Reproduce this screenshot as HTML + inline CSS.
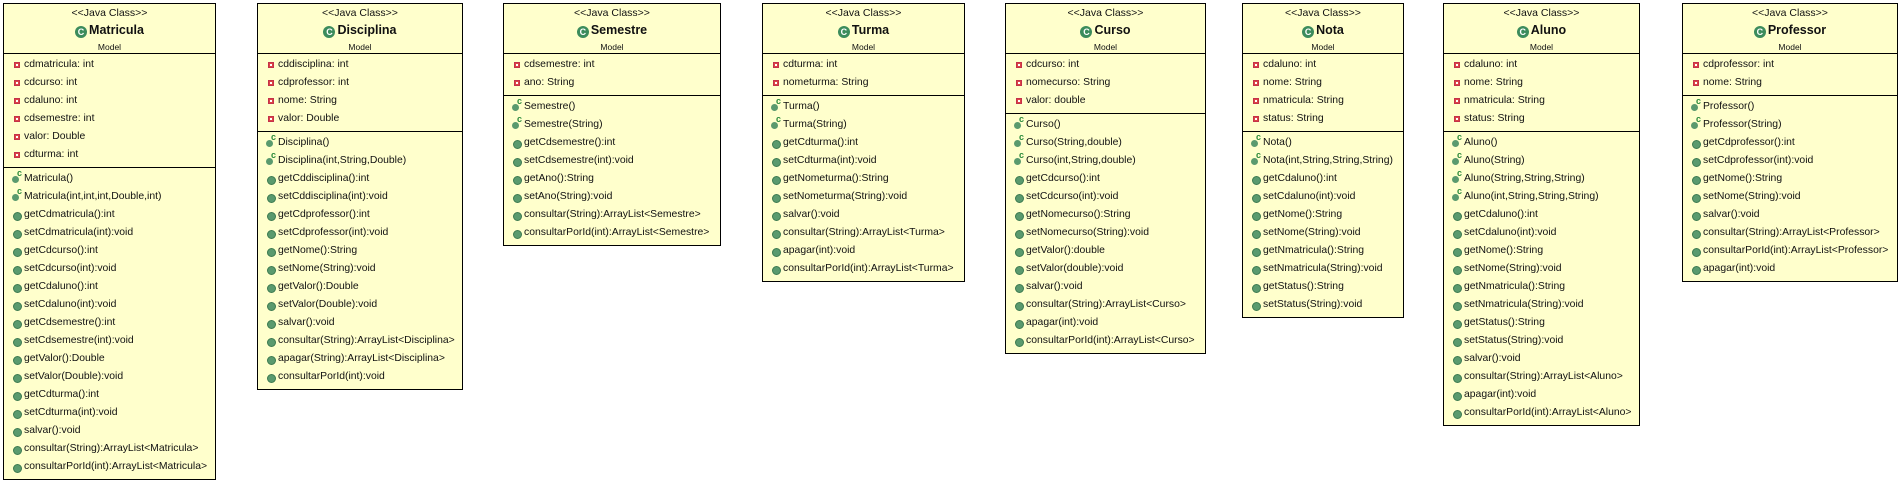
<!DOCTYPE html>
<html><head><meta charset="utf-8">
<style>
body{margin:0;width:1901px;height:481px;background:#fff;position:relative;overflow:hidden;font-family:"Liberation Sans",sans-serif;color:#111}
.box{position:absolute;top:3px;background:#ffffcc;border:1.5px solid #000;box-sizing:border-box}
.hd{height:50px;border-bottom:1.5px solid #000;text-align:center;position:relative;box-sizing:border-box}
.st{position:absolute;top:3px;left:0;right:0;font-size:10.5px}
.nm{position:absolute;top:19px;left:0;right:0;font-size:12.5px;font-weight:bold}
.nm i{display:inline-block;width:12px;height:12px;border-radius:50%;background:#3c8c5c;color:#fff;font-style:normal;font-size:9px;line-height:12px;vertical-align:-1px;margin-right:2px}
.pk{position:absolute;top:38px;left:0;right:0;font-size:8.5px}
.sec{border-bottom:1.5px solid #000;padding:2px 0 3px;box-sizing:border-box}
.sec:last-child{border-bottom:none}
.r{height:18px;line-height:18px;font-size:10.4px;padding-left:20px;position:relative;white-space:nowrap}
.a:before{content:"";position:absolute;left:10px;top:6px;width:4px;height:4px;background:#fff;border:1px solid #c4314b;box-shadow:inset 0 0 0 1px #d44}
.m:before{content:"";position:absolute;left:9px;top:6px;width:7px;height:7px;border-radius:50%;background:#5a9a6e;border:0.5px solid #3c7a50}
.c:before{content:"";position:absolute;left:8px;top:6px;width:7px;height:7px;border-radius:50%;background:#5a9a6e}
.c:after{content:"c";position:absolute;left:13px;top:-6px;font-size:9px;font-weight:bold;color:#2a8a3a}
</style></head><body>
<div id="root"></div>
<script>
var C=[
["Matricula",3,216,["cdmatricula: int","cdcurso: int","cdaluno: int","cdsemestre: int","valor: Double","cdturma: int"],["cMatricula()","cMatricula(int,int,int,Double,int)","getCdmatricula():int","setCdmatricula(int):void","getCdcurso():int","setCdcurso(int):void","getCdaluno():int","setCdaluno(int):void","getCdsemestre():int","setCdsemestre(int):void","getValor():Double","setValor(Double):void","getCdturma():int","setCdturma(int):void","salvar():void","consultar(String):ArrayList<Matricula>","consultarPorId(int):ArrayList<Matricula>"]],
["Disciplina",257,463,["cddisciplina: int","cdprofessor: int","nome: String","valor: Double"],["cDisciplina()","cDisciplina(int,String,Double)","getCddisciplina():int","setCddisciplina(int):void","getCdprofessor():int","setCdprofessor(int):void","getNome():String","setNome(String):void","getValor():Double","setValor(Double):void","salvar():void","consultar(String):ArrayList<Disciplina>","apagar(String):ArrayList<Disciplina>","consultarPorId(int):void"]],
["Semestre",503,721,["cdsemestre: int","ano: String"],["cSemestre()","cSemestre(String)","getCdsemestre():int","setCdsemestre(int):void","getAno():String","setAno(String):void","consultar(String):ArrayList<Semestre>","consultarPorId(int):ArrayList<Semestre>"]],
["Turma",762,965,["cdturma: int","nometurma: String"],["cTurma()","cTurma(String)","getCdturma():int","setCdturma(int):void","getNometurma():String","setNometurma(String):void","salvar():void","consultar(String):ArrayList<Turma>","apagar(int):void","consultarPorId(int):ArrayList<Turma>"]],
["Curso",1005,1206,["cdcurso: int","nomecurso: String","valor: double"],["cCurso()","cCurso(String,double)","cCurso(int,String,double)","getCdcurso():int","setCdcurso(int):void","getNomecurso():String","setNomecurso(String):void","getValor():double","setValor(double):void","salvar():void","consultar(String):ArrayList<Curso>","apagar(int):void","consultarPorId(int):ArrayList<Curso>"]],
["Nota",1242,1404,["cdaluno: int","nome: String","nmatricula: String","status: String"],["cNota()","cNota(int,String,String,String)","getCdaluno():int","setCdaluno(int):void","getNome():String","setNome(String):void","getNmatricula():String","setNmatricula(String):void","getStatus():String","setStatus(String):void"]],
["Aluno",1443,1640,["cdaluno: int","nome: String","nmatricula: String","status: String"],["cAluno()","cAluno(String)","cAluno(String,String,String)","cAluno(int,String,String,String)","getCdaluno():int","setCdaluno(int):void","getNome():String","setNome(String):void","getNmatricula():String","setNmatricula(String):void","getStatus():String","setStatus(String):void","salvar():void","consultar(String):ArrayList<Aluno>","apagar(int):void","consultarPorId(int):ArrayList<Aluno>"]],
["Professor",1682,1898,["cdprofessor: int","nome: String"],["cProfessor()","cProfessor(String)","getCdprofessor():int","setCdprofessor(int):void","getNome():String","setNome(String):void","salvar():void","consultar(String):ArrayList<Professor>","consultarPorId(int):ArrayList<Professor>","apagar(int):void"]]
];
function esc(s){return s.replace(/&/g,"&amp;").replace(/</g,"&lt;").replace(/>/g,"&gt;");}
var h="";
C.forEach(function(c){
 h+='<div class="box" style="left:'+c[1]+'px;width:'+(c[2]-c[1])+'px"><div class="hd"><div class="st">&lt;&lt;Java Class&gt;&gt;</div><div class="nm"><i>C</i>'+c[0]+'</div><div class="pk">Model</div></div><div class="sec">';
 c[3].forEach(function(a){h+='<div class="r a">'+esc(a)+'</div>';});
 h+='</div><div class="sec">';
 c[4].forEach(function(m){var k=m[0]=="c"&&m[1]==m[1].toUpperCase()&&m.indexOf("(")>0&&m[1]!="o";
  if(k)h+='<div class="r c">'+esc(m.slice(1))+'</div>';else h+='<div class="r m">'+esc(m)+'</div>';});
 h+='</div></div>';
});
document.getElementById("root").innerHTML=h;
</script>
</body></html>
